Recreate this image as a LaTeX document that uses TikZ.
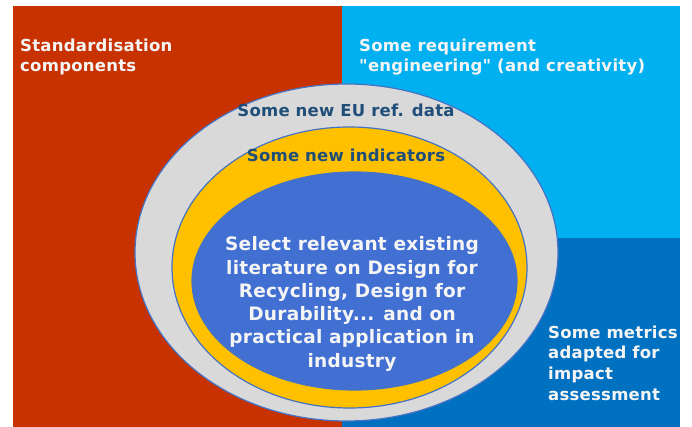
\documentclass[tikz,border=0pt]{standalone}
\usepackage{fontspec}
\newfontfamily\dv{DejaVu Sans}[LetterSpace=1.5]
\usetikzlibrary{shapes.geometric}
\definecolor{redbg}{RGB}{200,50,0}
\definecolor{lightbg}{RGB}{0,176,240}
\definecolor{darkbg}{RGB}{0,112,192}
\definecolor{grayring}{RGB}{217,217,217}
\definecolor{yellowring}{RGB}{255,192,0}
\definecolor{innerblue}{RGB}{66,112,210}
\definecolor{edgeblue}{RGB}{68,114,196}
\definecolor{darktext}{RGB}{31,78,121}
\definecolor{whitetext}{RGB}{245,245,245}
\tikzset{
  ring/.style={ellipse, draw=edgeblue, line width=1.2pt, inner sep=0pt},
  cornertext/.style={text=whitetext, font=\dv\bfseries\fontsize{16.5}{20.7}\selectfont, align=left, inner sep=0pt, anchor=north west},
  ringtext/.style={text=darktext, font=\dv\bfseries\fontsize{16.5}{19}\selectfont, inner sep=0pt},
  centertext/.style={text=whitetext, font=\dv\bfseries\fontsize{18.5}{23.3}\selectfont, align=center, inner sep=0pt}
}
\begin{document}
\begin{tikzpicture}[x=1pt,y=-1pt]
\useasboundingbox (0,0) rectangle (692,427);
\fill[white] (0,0) rectangle (692,427);
\fill[redbg] (13,6) rectangle (342,427);
\fill[lightbg] (342,6) rectangle (680,238);
\fill[darkbg] (342,238) rectangle (680,427);
\node[ring, fill=grayring, minimum width=423pt, minimum height=337pt] (gray) at (346.5,252.5) {};
\node[ring, fill=yellowring, minimum width=355pt, minimum height=281pt] (yellow) at (349.5,267.5) {};
\node[ring, fill=innerblue, minimum width=325pt, minimum height=218pt] (inner) at (354.5,281) {};
\node[cornertext] (std) at (20,38.5) {Standardisation\\components};
\node[cornertext] (req) at (359,38.5) {Some requirement\\"engineering" (and creativity)};
\node[cornertext] (met) at (548,325.5) {Some metrics\\adapted for\\impact\\assessment};
\node[ringtext] (eu) at (346,110.5) {Some new EU ref. data};
\node[ringtext] (ind) at (346,155) {Some new indicators};
\node[centertext] (lit) at (352,304) {Select relevant existing\\literature on Design for\\Recycling, Design for\\Durability... and on\\practical application in\\industry};
\end{tikzpicture}
\end{document}
